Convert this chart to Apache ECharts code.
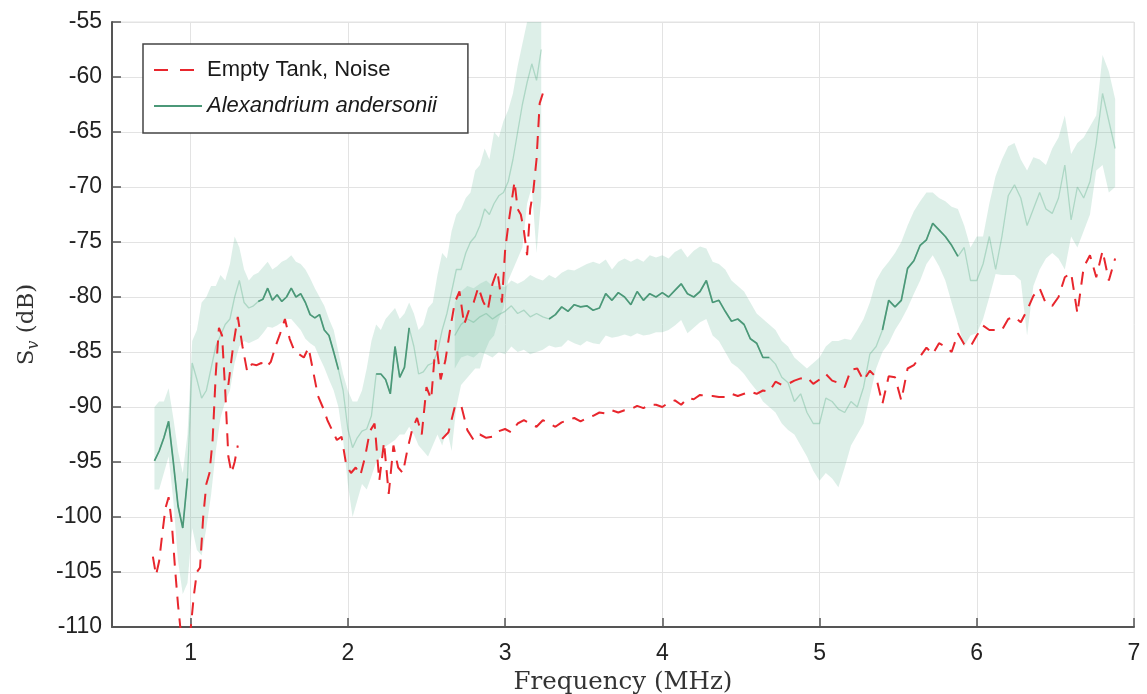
<!DOCTYPE html>
<html>
<head>
<meta charset="utf-8">
<script src="https://cdn.jsdelivr.net/npm/echarts@6/dist/echarts.min.js"></script>
<style>
  html, body { margin: 0; padding: 0; background: #fff; }
  #chart { width: 1147px; height: 694px; }
</style>
</head>
<body>
<div id="chart"></div>
<script>
// ---- data (frequency in MHz, Sv in dB) ----

// low band, Alexandrium andersonii
const xBand1 = [
  0.77, 0.80, 0.83, 0.86, 0.89, 0.92, 0.95, 0.98, 1.01, 1.04,
  1.07, 1.10, 1.13, 1.16, 1.19, 1.22, 1.25, 1.28, 1.31, 1.34,
  1.37, 1.40, 1.43, 1.46, 1.49, 1.52, 1.55, 1.58, 1.61, 1.64,
  1.67, 1.70, 1.73, 1.76, 1.79, 1.82, 1.85, 1.88, 1.91, 1.94,
  1.97, 2.00, 2.03, 2.06, 2.09, 2.12, 2.15, 2.18, 2.21, 2.24,
  2.27, 2.30, 2.33, 2.36, 2.39, 2.42, 2.45, 2.48, 2.51, 2.54,
  2.57, 2.60, 2.63, 2.66, 2.69, 2.72, 2.75, 2.78, 2.81, 2.84,
  2.87, 2.90, 2.93, 2.96, 2.99, 3.02, 3.05, 3.08, 3.11, 3.14,
  3.17, 3.20, 3.23
];
const mean1 = [
  -94.9, -94.0, -92.8, -91.3, -95.0, -99.0, -101.0, -96.5, -86.0, -87.5,
  -89.2, -88.5, -86.5, -84.5, -83.5, -82.5, -82.0, -80.0, -78.5, -80.5,
  -81.0, -80.8, -80.4, -80.2, -79.2, -80.3, -79.8, -80.4, -80.0, -79.2,
  -80.0, -79.7, -80.5, -81.6, -81.9, -81.6, -83.0, -83.5, -85.0, -86.6,
  -88.5, -92.0, -93.7, -92.8, -92.2, -92.0, -90.8, -87.0, -87.0, -87.5,
  -88.8, -84.5, -87.3, -86.4, -82.8, -84.5, -87.0, -86.8, -86.2, -86.0,
  -85.0, -83.0, -81.5, -79.5, -77.5, -77.5, -76.0, -75.0, -74.5, -73.5,
  -72.0, -72.5, -71.5, -70.8, -70.5, -69.5, -67.5, -65.0, -62.5, -60.5,
  -58.8, -60.3, -57.5
];
const upper1 = [
  -90.0, -89.5, -89.5, -88.3, -91.0, -94.0, -96.0, -92.5, -84.0, -83.0,
  -80.5, -80.0, -79.0, -79.0, -78.0, -78.5, -77.0, -74.5, -75.5, -77.5,
  -78.5, -78.0, -77.8, -77.3, -76.8, -77.5, -77.2, -76.8, -76.6, -76.2,
  -76.8, -77.0, -77.5, -78.3, -79.2, -80.0, -80.8, -82.0, -83.0, -85.0,
  -87.0, -88.5, -89.5, -89.5, -88.5, -86.5, -84.0, -82.5, -83.0, -82.0,
  -81.5, -81.0, -82.0, -81.5, -80.5, -81.5, -83.0, -82.5, -81.0, -80.5,
  -78.0, -76.0, -76.5, -74.0, -72.5, -72.0, -71.0, -70.5, -68.5, -68.0,
  -66.5, -67.5, -65.0, -65.5, -64.0, -63.0, -61.5, -59.0, -57.0, -55.0,
  -54.0, -54.0, -54.0
];
const lower1 = [
  -97.5, -97.5, -96.0, -94.5, -98.5, -104.0, -107.0, -106.0, -101.0, -103.0,
  -103.5, -101.0, -98.0, -94.0, -91.0, -89.5, -88.5, -86.0, -84.5, -84.0,
  -84.2, -84.0, -83.8, -83.3, -82.7, -82.8, -82.6, -82.3, -82.0, -82.0,
  -82.5, -83.0, -83.8, -84.2, -84.5, -85.5, -86.4, -87.5, -88.5, -90.0,
  -93.0, -97.0, -100.0, -98.5, -97.0, -97.5, -96.3, -95.0, -94.5, -93.6,
  -93.3, -93.0, -92.5, -92.5, -91.8, -92.5, -93.5, -94.0, -94.5, -93.5,
  -92.5, -93.5, -92.0, -94.0, -90.0, -88.0, -87.5, -87.0, -86.5, -86.5,
  -85.0, -84.0, -83.5, -82.0, -81.0, -78.5, -77.5, -76.5, -75.5, -71.5,
  -70.0, -76.0, -71.0
];
// stretches where the mean is drawn solid
const solid1 = [[0.77, 0.98], [1.43, 1.94], [2.18, 2.39]];

// high band, Alexandrium andersonii
const xBand2 = [
  2.68, 2.72, 2.76, 2.80, 2.84, 2.88, 2.92, 2.96, 3.00, 3.04,
  3.08, 3.12, 3.16, 3.20, 3.24, 3.28, 3.32, 3.36, 3.40, 3.44,
  3.48, 3.52, 3.56, 3.60, 3.64, 3.68, 3.72, 3.76, 3.80, 3.84,
  3.88, 3.92, 3.96, 4.00, 4.04, 4.08, 4.12, 4.16, 4.20, 4.24,
  4.28, 4.32, 4.36, 4.40, 4.44, 4.48, 4.52, 4.56, 4.60, 4.64,
  4.68, 4.72, 4.76, 4.80, 4.84, 4.88, 4.92, 4.96, 5.00, 5.04,
  5.08, 5.12, 5.16, 5.20, 5.24, 5.28, 5.32, 5.36, 5.40, 5.44,
  5.48, 5.52, 5.56, 5.60, 5.64, 5.68, 5.72, 5.76, 5.80, 5.84,
  5.88, 5.92, 5.96, 6.00, 6.04, 6.08, 6.12, 6.16, 6.20, 6.24,
  6.28, 6.32, 6.36, 6.40, 6.44, 6.48, 6.52, 6.56, 6.60, 6.64,
  6.68, 6.72, 6.76, 6.80, 6.84, 6.88
];
const mean2 = [
  -83.5, -82.5, -82.0, -82.3, -81.8, -81.5, -82.0, -81.6, -81.3, -80.8,
  -81.5, -81.2, -81.8, -81.5, -81.8, -82.0, -81.6, -80.9, -81.3, -80.7,
  -80.9, -80.8, -81.2, -81.0, -79.7, -80.3, -79.6, -80.0, -80.7, -79.5,
  -80.3, -79.7, -80.0, -79.6, -80.0, -79.4, -78.8, -79.7, -80.0, -79.5,
  -78.5, -80.5, -80.3, -81.3, -82.2, -82.0, -82.5, -83.8, -84.2, -85.5,
  -85.5, -86.1, -87.3, -87.8, -89.5, -88.8, -90.5, -91.5, -91.5, -89.2,
  -89.5, -90.2, -90.5, -89.5, -90.0, -88.2, -85.2, -84.5, -83.0, -80.3,
  -80.9, -80.3, -77.4, -76.7, -75.3, -74.8, -73.3, -73.9, -74.5, -75.3,
  -76.3, -75.5, -78.5, -78.5, -77.0, -74.5, -77.5, -74.5, -70.8, -69.8,
  -71.0, -73.5, -72.0, -70.5, -72.0, -72.4, -71.0, -68.0, -73.0, -70.0,
  -71.0, -69.5, -66.0, -61.5, -64.0, -66.5
];
const upper2 = [
  -80.5, -79.5, -79.0, -79.2, -78.8, -78.5, -79.0, -79.0, -79.1, -78.5,
  -78.8, -78.5, -78.0, -78.3, -78.5, -78.0, -78.3, -77.8, -77.5, -77.6,
  -77.3, -77.0, -76.8, -77.0, -76.6, -77.5, -76.8, -76.5, -76.8, -76.5,
  -76.8, -76.2, -76.4, -76.2, -76.5, -75.9, -75.6, -76.4, -75.8, -75.4,
  -75.6, -76.8, -77.0, -77.5, -78.5, -79.0, -79.5, -80.5, -81.5, -82.0,
  -82.5, -83.0, -84.0, -84.5, -85.5, -86.0, -86.5, -86.0, -85.5, -84.5,
  -84.0, -84.0, -83.8, -83.9, -83.0, -82.0, -80.5, -78.5, -77.5, -76.8,
  -76.0, -75.0, -73.5, -72.2, -71.3, -70.5, -70.5, -71.0, -71.3, -71.8,
  -72.0, -73.5, -75.5, -74.5, -74.5, -71.5, -69.0, -67.5, -66.3, -66.0,
  -67.5, -68.5, -67.3, -67.5, -68.0, -66.5, -65.5, -63.5, -67.0, -66.0,
  -65.5, -64.5, -63.5, -58.0, -59.5, -62.0
];
const lower2 = [
  -86.5, -85.5, -85.3, -85.5, -85.0, -85.2, -85.5, -85.0, -85.2, -84.5,
  -85.0, -84.8, -85.2, -85.0, -84.8, -84.4, -84.6, -84.5, -83.9, -84.2,
  -84.4, -84.0, -84.2, -84.3, -83.5, -83.7, -83.6, -83.4, -83.6, -83.3,
  -83.5, -83.4, -83.2, -83.2, -83.0, -82.6, -82.1, -83.3, -82.8, -82.3,
  -82.0, -83.5, -84.0, -85.0, -86.0, -86.4, -87.0, -87.8, -88.5, -89.5,
  -90.0, -90.5, -91.5, -92.1, -92.5, -93.5, -94.5, -95.8, -96.7, -96.0,
  -96.5, -97.3, -95.5, -93.5, -92.5, -91.5, -89.0, -86.5, -85.0, -84.2,
  -83.0, -82.1, -81.0, -79.7, -78.5, -77.0, -76.2, -77.2, -78.5, -80.5,
  -82.4, -84.5, -83.5, -83.3, -82.0, -80.0, -77.9, -78.0, -78.0, -78.0,
  -78.5, -83.5, -79.0, -77.5, -76.5, -76.0, -76.5, -77.5, -74.5, -75.5,
  -74.0, -72.5, -68.5, -68.0, -70.5, -70.0
];
const solid2 = [[3.28, 4.68], [5.40, 5.88]];

// empty tank noise, three sweeps
const xNoiseA = [
  0.76, 0.78, 0.80, 0.82, 0.84, 0.86, 0.88, 0.90, 0.92, 0.94,
  0.96, 0.98, 1.00, 1.02, 1.04, 1.06, 1.08, 1.10, 1.12, 1.14,
  1.16, 1.18, 1.20, 1.22, 1.24, 1.26, 1.28, 1.30
];
const noiseA = [
  -103.6, -105.3, -104.0, -101.5, -99.2, -98.2, -100.5, -104.5, -108.0, -110.8,
  -112.0, -111.5, -110.2, -107.2, -105.0, -104.6, -100.0, -97.0, -96.0, -93.0,
  -87.0, -82.8, -83.5, -88.5, -94.5, -96.0, -95.0, -93.5
];
const xNoiseB = [
  1.24, 1.27, 1.30, 1.33, 1.36, 1.39, 1.42, 1.45, 1.48, 1.51,
  1.54, 1.57, 1.60, 1.63, 1.66, 1.69, 1.72, 1.75, 1.78, 1.81,
  1.84, 1.87, 1.90, 1.93, 1.96, 1.99, 2.02, 2.05, 2.08, 2.11,
  2.14, 2.17, 2.20, 2.23, 2.26, 2.29, 2.32, 2.35, 2.38, 2.41,
  2.44, 2.47, 2.50, 2.53, 2.56, 2.59, 2.62, 2.65, 2.68, 2.71,
  2.74, 2.77, 2.80, 2.83, 2.86, 2.89, 2.92, 2.95, 2.98,
  3.00, 3.02, 3.04, 3.06, 3.08, 3.10, 3.12, 3.14, 3.16, 3.18,
  3.20, 3.22, 3.24
];
const noiseB = [
  -88.0, -84.5, -81.8, -84.5, -86.8, -86.1, -86.2, -86.0, -86.4, -85.9,
  -84.5, -83.3, -82.0, -83.8, -84.9, -85.2, -85.5, -84.6, -86.8, -89.0,
  -90.0, -91.2, -92.1, -93.0, -92.7, -95.3, -96.0, -95.5, -96.2, -94.5,
  -92.2, -91.5, -96.7, -93.2, -97.9, -93.5, -95.5, -96.0, -93.8, -92.0,
  -91.0, -92.5, -88.2, -89.3, -83.9, -87.5, -85.8, -83.0, -80.5, -79.5,
  -82.5, -81.2, -80.5, -79.1, -80.4, -81.2, -78.8, -77.6, -80.5,
  -75.8, -73.5, -71.5, -69.5, -72.0, -72.5, -74.0, -76.2, -72.0, -70.3,
  -67.5, -62.4, -61.5
];
const xNoiseC = [
  2.60, 2.64,
  2.68, 2.72, 2.76, 2.80, 2.84, 2.88, 2.92, 2.96, 3.00, 3.04,
  3.08, 3.12, 3.16, 3.20, 3.24, 3.28, 3.32, 3.36, 3.40, 3.44,
  3.48, 3.52, 3.56, 3.60, 3.64, 3.68, 3.72, 3.76, 3.80, 3.84,
  3.88, 3.92, 3.96, 4.00, 4.04, 4.08, 4.12, 4.16, 4.20, 4.24,
  4.28, 4.32, 4.36, 4.40, 4.44, 4.48, 4.52, 4.56, 4.60, 4.64,
  4.68, 4.72, 4.76, 4.80, 4.84, 4.88, 4.92, 4.96, 5.00, 5.04,
  5.08, 5.12, 5.16, 5.20, 5.24, 5.28, 5.32, 5.36, 5.40, 5.44,
  5.48, 5.52, 5.56, 5.60, 5.64, 5.68, 5.72, 5.76, 5.80, 5.84,
  5.88, 5.92, 5.96, 6.00, 6.04, 6.08, 6.12, 6.16, 6.20, 6.24,
  6.28, 6.32, 6.36, 6.40, 6.44, 6.48, 6.52, 6.56, 6.60, 6.64,
  6.68, 6.72, 6.76, 6.80, 6.84, 6.88
];
const noiseC = [
  -92.9, -92.3,
  -90.0, -89.8, -92.1, -93.0, -92.5, -92.8, -92.7, -92.2, -92.0, -92.3,
  -91.5, -91.2, -91.5, -91.8, -91.2, -91.5, -91.8, -91.4, -91.2, -91.0,
  -91.3, -91.0, -90.8, -90.5, -90.6, -90.3, -90.5, -90.3, -90.2, -89.9,
  -90.1, -89.8, -89.8, -90.0, -89.6, -89.4, -89.8, -89.2, -89.3, -88.9,
  -89.0, -89.0, -89.1, -89.1, -88.8, -89.0, -88.8, -88.6, -88.8, -88.5,
  -88.6, -87.7, -88.0, -87.9, -87.6, -87.4, -87.3, -87.9, -87.5, -87.0,
  -87.6, -87.8, -88.2, -86.6, -86.5, -87.6, -86.7, -87.3, -89.7, -87.2,
  -87.3, -89.4, -86.5, -86.2, -85.4, -84.6, -85.2, -84.2, -84.5, -85.0,
  -83.3, -84.3, -84.5, -83.5, -82.6, -83.0, -83.0, -83.0, -82.0, -81.8,
  -82.3, -81.2, -79.9, -79.2, -80.6, -80.8, -80.0, -78.2, -77.8, -81.5,
  -77.3, -76.2, -78.2, -75.8, -78.5, -76.5
];

const xTicks = [1, 2, 3, 4, 5, 6, 7];

const NOISE = "Empty Tank, Noise";
const ALEX = "Alexandrium andersonii";
const red = "#e8262d";
const green = "#4b9878";

function pairs(xs, ys) {
  return xs.map((x, i) => [x, ys[i]]);
}
// keep only the stretches where the mean is drawn solid
function solidPart(xs, ys, ranges) {
  return xs.map((x, i) => {
    const inside = ranges.some(r => x >= r[0] - 1e-9 && x <= r[1] + 1e-9);
    return [x, inside ? ys[i] : "-"];
  });
}
// shaded spread: one polygon, upper edge forward and lower edge back
function bandSeries(xs, lo, up) {
  return {
    type: "custom", name: "band", silent: true, z: 1,
    data: pairs(xs, lo),
    renderItem: (params, api) => {
      if (params.dataIndex !== 0) return null;
      const pts = [];
      for (let i = 0; i < xs.length; i++) pts.push(api.coord([xs[i], up[i]]));
      for (let i = xs.length - 1; i >= 0; i--) pts.push(api.coord([xs[i], lo[i]]));
      const cs = params.coordSys;
      return {
        type: "group",
        clipPath: { type: "rect", shape: { x: cs.x, y: cs.y, width: cs.width, height: cs.height } },
        children: [{
          type: "polygon",
          shape: { points: pts },
          style: { fill: "rgba(112,190,160,0.24)" }
        }]
      };
    }
  };
}
function faint(xs, ys) {
  return {
    type: "line", name: "faint", data: pairs(xs, ys), symbol: "none",
    lineStyle: { color: "rgba(95,175,140,0.38)", width: 1.3 }, z: 2
  };
}
function solid(xs, ys, ranges) {
  return {
    type: "line", name: ALEX, data: solidPart(xs, ys, ranges), symbol: "none",
    color: green, lineStyle: { color: green, width: 1.7 }, z: 3
  };
}
function noise(xs, ys) {
  return {
    type: "line", name: NOISE, data: pairs(xs, ys), symbol: "none",
    color: red, lineStyle: { color: red, width: 2, type: [13, 9] }, z: 4
  };
}

const chart = echarts.init(document.getElementById("chart"));
chart.setOption({
  animation: false,
  backgroundColor: "#fff",
  grid: {
    left: 112, right: 13, top: 22, bottom: 67,
    outerBoundsMode: "none",
    show: true, borderColor: "#e3e3e3", borderWidth: 1
  },
  legend: {
    data: [
      { name: NOISE, lineStyle: { color: red, width: 2, type: [14, 12] } },
      { name: ALEX }
    ],
    orient: "vertical",
    left: 143, top: 44,
    padding: [15, 31, 16, 10],
    itemWidth: 48, itemHeight: 22, itemGap: 14,
    backgroundColor: "#fff",
    borderColor: "#444", borderWidth: 1.5,
    selectedMode: false,
    itemStyle: { opacity: 0 },
    formatter: name => (name === ALEX ? "{i|" + name + "}" : name),
    textStyle: {
      fontFamily: "Liberation Sans", fontSize: 22, color: "#1a1a1a",
      rich: { i: { fontFamily: "Liberation Sans", fontSize: 22, fontStyle: "italic", color: "#1a1a1a" } }
    }
  },
  xAxis: {
    type: "value", min: 0.5, max: 7, interval: 0.5,
    name: "Frequency (MHz)", nameLocation: "middle", nameGap: 40,
    nameTextStyle: { fontFamily: "DejaVu Serif", fontSize: 24.5, color: "#333" },
    axisLine: { lineStyle: { color: "#555", width: 2 } },
    axisTick: { inside: true, length: 9, customValues: xTicks, lineStyle: { color: "#555", width: 1.5 } },
    axisLabel: {
      customValues: xTicks, margin: 15,
      fontFamily: "Liberation Sans", fontSize: 23, color: "#222"
    },
    splitLine: { lineStyle: { color: "#e3e3e3", width: 1 } }
  },
  yAxis: {
    type: "value", min: -110, max: -55, interval: 5,
    name: "{s|S}{v|v}{s| (dB)}", nameLocation: "middle", nameGap: 70, nameRotate: 90,
    nameTextStyle: {
      rich: {
        s: { fontFamily: "DejaVu Serif", fontSize: 23, color: "#333", lineHeight: 30, verticalAlign: "middle" },
        v: { fontFamily: "DejaVu Serif", fontSize: 16, fontStyle: "italic", color: "#333", lineHeight: 30, verticalAlign: "bottom" }
      }
    },
    axisLine: { show: true, lineStyle: { color: "#555", width: 2 } },
    axisTick: { inside: true, length: 9, lineStyle: { color: "#555", width: 1.5 } },
    axisLabel: { margin: 10, fontFamily: "Liberation Sans", fontSize: 23, color: "#222" },
    splitLine: { lineStyle: { color: "#e3e3e3", width: 1 } }
  },
  series: [
    bandSeries(xBand1, lower1, upper1),
    bandSeries(xBand2, lower2, upper2),
    faint(xBand1, mean1),
    faint(xBand2, mean2),
    solid(xBand1, mean1, solid1),
    solid(xBand2, mean2, solid2),
    noise(xNoiseA, noiseA),
    noise(xNoiseB, noiseB),
    noise(xNoiseC, noiseC)
  ]
});
</script>
</body>
</html>
